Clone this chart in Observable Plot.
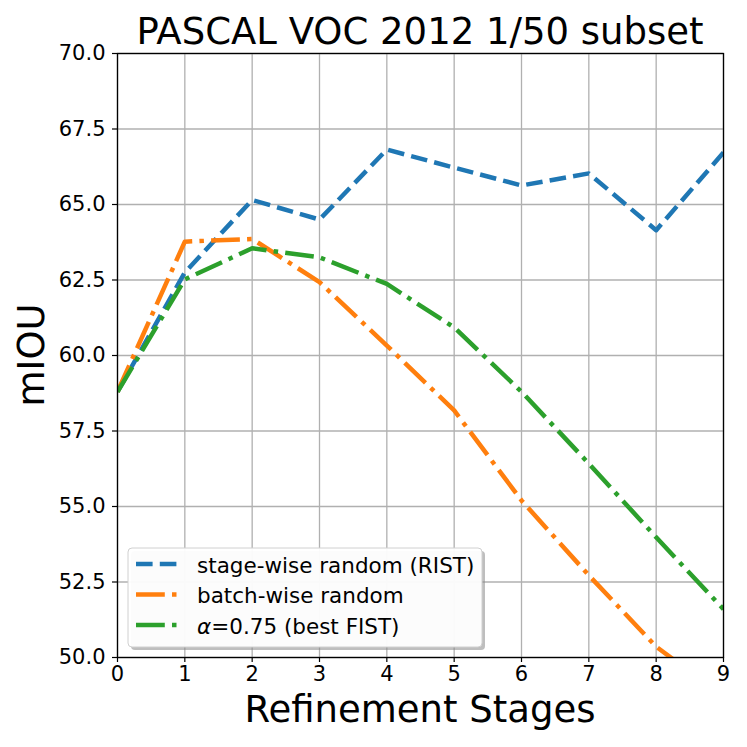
<!DOCTYPE html>
<html>
<head>
<meta charset="utf-8">
<script src="https://cdn.jsdelivr.net/npm/d3@7"></script>
<script src="https://cdn.jsdelivr.net/npm/@observablehq/plot@0.6"></script>
<style>
  html, body { margin: 0; padding: 0; background: white; }
  #chart svg { display: block; }
</style>
</head>
<body>
<div id="chart"></div>
<script>
const title = "PASCAL VOC 2012 1/50 subset";
const xLabel = "Refinement Stages";
const yLabel = "mIOU";
const stages = [0, 1, 2, 3, 4, 5, 6, 7, 8, 9];
const rist = [58.8, 62.75, 65.15, 64.5, 66.82, 66.22, 65.63, 66.03, 64.15, 66.72];
const batchRandom = [58.8, 63.77, 63.86, 62.43, 60.33, 58.18, 55.2, 52.72, 50.36, 48.7];
const fist = [58.8, 62.52, 63.55, 63.25, 62.37, 60.93, 58.8, 56.42, 53.98, 51.6];
const seriesNames = ["stage-wise random (RIST)", "batch-wise random", "α=0.75 (best FIST)"];
const seriesColors = ["#1f77b4", "#ff7f0e", "#2ca02c"];
const seriesDash = ["16.6,7.2", "28.8,7.2,4.5,7.2", "28.8,7.2,4.5,7.2"];
const xTicks = [0, 1, 2, 3, 4, 5, 6, 7, 8, 9];
const yTicks = [50, 52.5, 55, 57.5, 60, 62.5, 65, 67.5, 70];

const seriesValues = [rist, batchRandom, fist];
const tables = seriesValues.map(vals => stages.map((s, i) => ({stage: s, value: vals[i]})));

const W = 747, H = 747;
const mL = 117, mR = 24, mT = 53, mB = 90;

const plot = Plot.plot({
  width: W,
  height: H,
  marginLeft: mL,
  marginRight: mR,
  marginTop: mT,
  marginBottom: mB,
  style: {fontFamily: "DejaVu Sans", color: "black", background: "white"},
  x: {domain: [0, 9]},
  y: {domain: [50, 70]},
  marks: [
    Plot.gridX(xTicks, {stroke: "#b0b0b0", strokeOpacity: 1, strokeWidth: 1.3}),
    Plot.gridY(yTicks, {stroke: "#b0b0b0", strokeOpacity: 1, strokeWidth: 1.3}),
    ...tables.map((t, k) => Plot.line(t, {
      x: "stage", y: "value",
      stroke: seriesColors[k],
      strokeWidth: 4.5,
      strokeDasharray: seriesDash[k],
      strokeLinecap: "butt",
      strokeLinejoin: "round",
      clip: true
    })),
    Plot.frame({stroke: "black", strokeWidth: 1.3}),
    Plot.axisX(xTicks, {tickSize: 5, tickPadding: 4, fontSize: 21, label: null, tickFormat: d => String(d), stroke: "black", strokeWidth: 1.2}),
    Plot.axisY(yTicks, {tickSize: 5, tickPadding: 7, fontSize: 21, label: null, tickFormat: d => d.toFixed(1), stroke: "black", strokeWidth: 1.2})
  ]
});

document.getElementById("chart").appendChild(plot);

const svg = d3.select(plot);
const cx = mL + (W - mL - mR) / 2;
const cy = mT + (H - mT - mB) / 2;

svg.append("text")
  .attr("x", cx).attr("y", 44)
  .attr("text-anchor", "middle")
  .attr("font-family", "DejaVu Sans")
  .attr("font-size", 37)
  .attr("fill", "black")
  .text(title);

svg.append("text")
  .attr("x", cx).attr("y", 722)
  .attr("text-anchor", "middle")
  .attr("font-family", "DejaVu Sans")
  .attr("font-size", 37)
  .attr("fill", "black")
  .text(xLabel);

svg.append("text")
  .attr("transform", `translate(44,${cy}) rotate(-90)`)
  .attr("text-anchor", "middle")
  .attr("font-family", "DejaVu Sans")
  .attr("font-size", 37)
  .attr("fill", "black")
  .text(yLabel);

// legend
const lg = svg.append("g").attr("text-anchor", "start");
const lx = 128, ly = 548, lw = 354, lh = 99;
lg.append("rect").attr("x", lx + 3).attr("y", ly + 3).attr("width", lw).attr("height", lh)
  .attr("rx", 4).attr("fill", "#888").attr("fill-opacity", 0.55);
lg.append("rect").attr("x", lx).attr("y", ly).attr("width", lw).attr("height", lh)
  .attr("rx", 4).attr("fill", "white").attr("fill-opacity", 0.95).attr("stroke", "#d0d0d0").attr("stroke-width", 1);
seriesNames.forEach((name, i) => {
  const yy = 564 + i * 30.5;
  lg.append("line").attr("x1", 136).attr("x2", 177).attr("y1", yy).attr("y2", yy)
    .attr("stroke", seriesColors[i]).attr("stroke-width", 4.5)
    .attr("stroke-dasharray", seriesDash[i]);
  const t = lg.append("text").attr("x", 197).attr("y", yy + 8.5)
    .attr("text-anchor", "start")
    .attr("font-family", "DejaVu Sans").attr("font-size", 21.5).attr("fill", "black");
  if (name.startsWith("α")) {
    t.append("tspan").attr("font-style", "italic").text("α");
    t.append("tspan").text(name.slice(1));
  } else {
    t.text(name);
  }
});
</script>
</body>
</html>
